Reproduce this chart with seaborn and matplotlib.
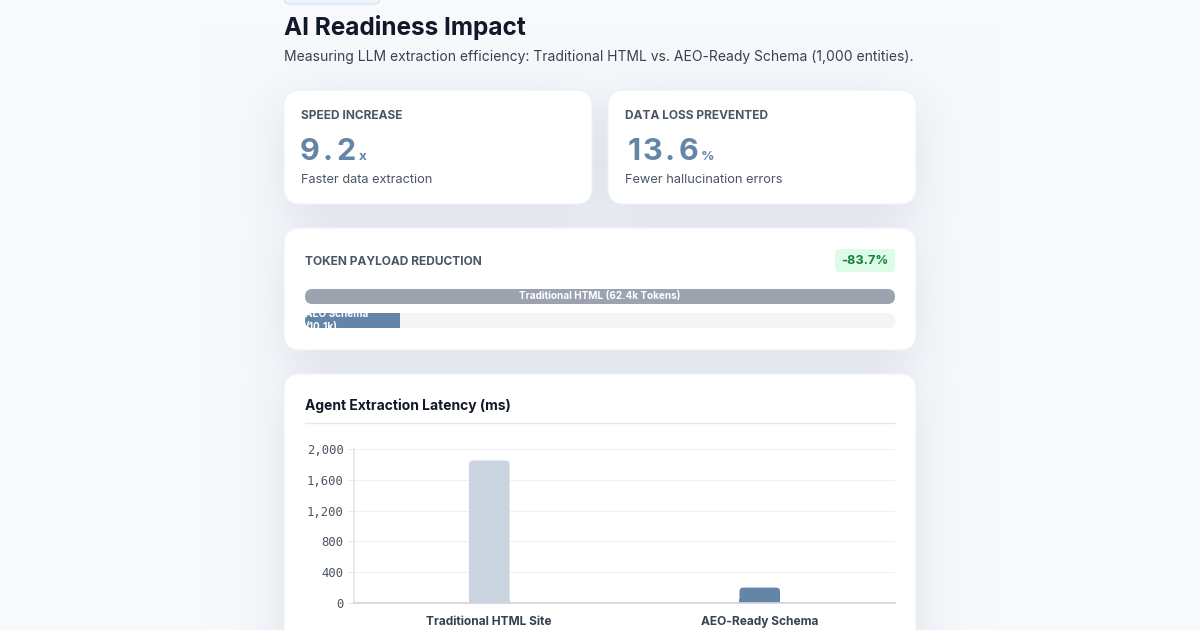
import numpy as np
import seaborn as sns
import matplotlib.pyplot as plt
from matplotlib.patches import FancyBboxPatch, Rectangle
from matplotlib.transforms import IdentityTransform

sns.set_theme(style="white")
plt.rcParams["font.family"] = ["Inter", "DejaVu Sans"]

# --- data -------------------------------------------------------------
title = "AI Readiness Impact"
subtitle = "Measuring LLM extraction efficiency: Traditional HTML vs. AEO-Ready Schema (1,000 entities)."

kpi_labels = ["SPEED INCREASE", "DATA LOSS PREVENTED"]
kpi_values = ["9.2", "13.6"]
kpi_units = ["x", "%"]
kpi_notes = ["Faster data extraction", "Fewer hallucination errors"]

token_title = "TOKEN PAYLOAD REDUCTION"
token_badge = "-83.7%"
token_labels = ["Traditional HTML (62.4k Tokens)", "AEO Schema\n(10.1k)"]
token_values = [62.4, 10.1]

latency_title = "Agent Extraction Latency (ms)"
latency_sites = ["Traditional HTML Site", "AEO-Ready Schema"]
latency_ms = [1850, 200]
latency_ticks = [0, 400, 800, 1200, 1600, 2000]

ACCENT = "#6585a8"
W, H = 1200, 630

fig = plt.figure(figsize=(12, 6.3), dpi=100)
bg = fig.add_axes([0, 0, 1, 1])


def box_blur(a, r):
    for axis in (0, 1):
        a = np.moveaxis(a, axis, 0)
        pad = np.pad(a, ((r + 1, r), (0, 0)), mode="edge")
        c = np.cumsum(pad, axis=0)
        a = (c[2 * r + 1:] - c[:-2 * r - 1]) / (2 * r + 1)
        a = np.moveaxis(a, 0, axis)
    return a


# page background with soft card shadows
cards = [(284, 90, 592, 204), (608, 90, 916, 204), (284, 228, 916, 350), (284, 374, 916, 700)]
mask = np.zeros((H, W))
for x0, y0, x1, y1 in cards:
    mask[min(y0 + 14, H):min(y1 + 14, H), x0:x1] = 1
soft = mask
for _ in range(3):
    soft = box_blur(soft, 26)
base = np.array([247, 249, 252]) / 255
shade = np.array([140, 155, 178]) / 255
a = (0.26 * soft)[..., None]
img = base * (1 - a) + shade * a
bg.imshow(img, extent=(0, W, H, 0), aspect="auto", zorder=0, interpolation="bilinear")

for x0, y0, x1, y1 in cards:
    bg.add_patch(FancyBboxPatch((x0, y0), x1 - x0, y1 - y0,
                                boxstyle="round,pad=0,rounding_size=16",
                                fc="white", ec="#eef1f5", lw=0.8, zorder=1))

# little pill at the very top
bg.add_patch(FancyBboxPatch((284, -14), 96, 18, boxstyle="round,pad=0,rounding_size=6",
                            fc="#eef4fb", ec="#d6e2f0", lw=0.8, zorder=1))

bg.text(284, 28, title, fontsize=17.5, fontweight="bold", color="#111827", va="center", zorder=3)
bg.text(284, 57, subtitle, fontsize=10, color="#374151", va="center", zorder=3)

for i, (lab, val, unit, note) in enumerate(zip(kpi_labels, kpi_values, kpi_units, kpi_notes)):
    x = 301 + i * 324
    bg.text(x, 116, lab, fontsize=8.6, fontweight="bold", color="#4b5563", va="center", zorder=3)
    # big figure drawn with a wide, even letter spacing
    for k, ch in enumerate(val):
        bg.text(x + 18 * k + 9, 160, ch, fontsize=22, fontweight="bold",
                color=ACCENT, ha="center", va="baseline", zorder=3)
    bg.text(x + len(val) * 18 + 4, 160, unit, fontsize=9.5, fontweight="bold",
            color=ACCENT, va="baseline", zorder=3)
    bg.text(x, 180, note, fontsize=9.2, color="#4b5563", va="center", zorder=3)

bg.text(305, 262, token_title, fontsize=8.6, fontweight="bold", color="#4b5563", va="center", zorder=3)
bg.add_patch(FancyBboxPatch((835, 249), 60, 23, boxstyle="round,pad=0,rounding_size=4",
                            fc="#dcfce7", ec="none", zorder=2))
bg.text(865, 261.5, token_badge, fontsize=9.2, fontweight="bold", color="#15803d",
        ha="center", va="center", zorder=3)

bg.text(305, 406, latency_title, fontsize=10, fontweight="bold", color="#111827", va="center", zorder=3)
bg.plot([305, 895], [423, 423], color="#e5e7eb", lw=1, zorder=2)

bg.set_xlim(0, W)
bg.set_ylim(H, 0)
bg.axis("off")


def px_box(ax, p):
    (x0, y0), (x1, y1) = ax.transData.transform(
        [(p.get_x(), p.get_y()), (p.get_x() + p.get_width(), p.get_y() + p.get_height())])
    return min(x0, x1), min(y0, y1), abs(x1 - x0), abs(y1 - y0)


def rbox(ax, box, r, color, z):
    p = FancyBboxPatch(box[:2], box[2], box[3], boxstyle=f"round,pad=0,rounding_size={r}",
                       fc=color, ec="none", transform=IdentityTransform(), zorder=z)
    ax.add_patch(p)
    return p


# --- token payload bars ------------------------------------------------
tk = fig.add_axes([305 / W, 1 - 332.5 / H, 590 / W, 48 / H])
sns.barplot(x=token_values, y=token_labels, hue=token_labels, palette=["#9ca3af", ACCENT],
            orient="h", width=0.625, saturation=1, legend=False, ax=tk)
fills = list(tk.patches)
track = tk.barh([0, 1], [max(token_values)] * 2, height=0.625, color="#f3f4f6")
tk.set_xlim(0, max(token_values))
tk.set_ylim(1.5, -0.5)
tk.axis("off")

tracks = []
for p in track.patches:
    p.set_visible(False)
    tracks.append(rbox(tk, px_box(tk, p), 7.5, "#f3f4f6", 1))
fill_rects = []
for j, p in enumerate(fills):
    p.set_visible(False)
    b = px_box(tk, p)
    r = Rectangle(b[:2], b[2], b[3], fc=p.get_facecolor(), ec="none",
                  transform=IdentityTransform(), zorder=2)
    tk.add_patch(r)
    r.set_clip_path(tracks[j])
    fill_rects.append(r)

tk.text(max(token_values) / 2, 0, token_labels[0], ha="center", va="center",
        fontsize=7.2, fontweight="bold", color="white", zorder=4)
t2 = tk.text(0, 1, token_labels[1], ha="left", va="center", linespacing=1.35,
             fontsize=7.2, fontweight="bold", color="white", zorder=4)
t2.set_clip_path(fill_rects[1])

# --- latency chart -----------------------------------------------------
la = fig.add_axes([354 / W, 1 - 603 / H, 541 / W, 154 / H])
sns.barplot(x=latency_sites, y=latency_ms, hue=latency_sites, palette=["#cad4e1", ACCENT],
            width=0.15, saturation=1, legend=False, ax=la)
la.set_ylim(0, 2000)
la.set_xlim(-0.5, 1.5)
la.set_yticks(latency_ticks)
la.set_yticklabels([f"{v:,}" for v in latency_ticks], family="DejaVu Sans Mono",
                   fontsize=8.8, color="#4b5563")
for lbl in la.get_xticklabels():
    lbl.set_fontweight("bold")
    lbl.set_fontsize(8.6)
    lbl.set_color("#374151")
la.set_facecolor("none")
la.grid(True, axis="y", color="#eef0f3", lw=0.8)
la.set_axisbelow(True)
for s in ["top", "right"]:
    la.spines[s].set_visible(False)
la.spines["left"].set_color("#e5e7eb")
la.spines["bottom"].set_color("#d1d5db")
la.tick_params(axis="y", length=4.3, width=0.8, color="#e5e7eb", pad=3, left=True)
la.tick_params(axis="x", length=0, pad=9.5)
la.set_xlabel("")
la.set_ylabel("")

for p in list(la.patches):
    p.set_visible(False)
    b = px_box(la, p)
    c = p.get_facecolor()
    rbox(la, b, 4, c, 2)
    la.add_patch(Rectangle(b[:2], b[2], min(4, b[3] / 2), fc=c, ec="none",
                           transform=IdentityTransform(), zorder=2))

fig.savefig("out.png", dpi=100)
